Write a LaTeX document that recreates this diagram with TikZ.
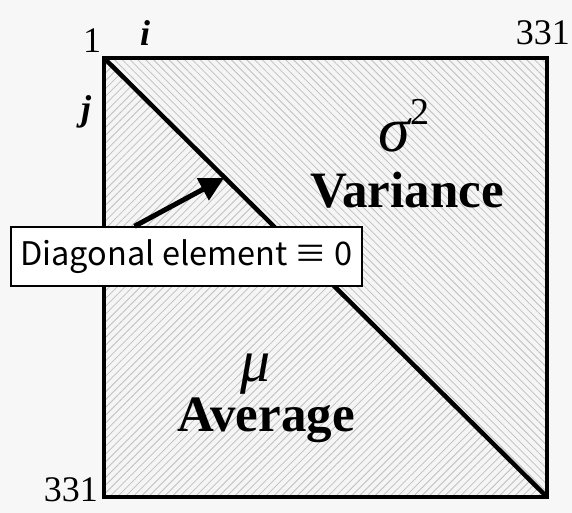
\documentclass[tikz,border=0pt]{standalone}
\usepackage{fontspec}
\setmainfont{Liberation Serif}
\newfontfamily\boxfont{Noto Sans CJK JP}
\usetikzlibrary{patterns.meta,arrows.meta}
\begin{document}
\begin{tikzpicture}[x=1pt,y=-1pt,
  frame/.style={line width=4.5pt},
  hatchA/.style={pattern={Lines[angle=45,distance=5.5pt,line width=0.8pt]},pattern color=gray!50},
  hatchB/.style={pattern={Lines[angle=-45,distance=5.5pt,line width=0.8pt]},pattern color=gray!50},
  num/.style={font=\fontsize{36}{36}\selectfont, inner sep=0pt},
  big/.style={font=\fontsize{51}{51}\selectfont\bfseries, inner sep=0pt},
  labbox/.style={draw, line width=1.5pt, fill=white, inner xsep=8pt, inner ysep=6pt, font=\fontsize{32.5}{32.5}\boxfont}
]
\fill[white!97!black] (0,0) rectangle (572,513);
\useasboundingbox (0,0) rectangle (572,513);
\coordinate (TL) at (104,58);
\coordinate (TR) at (547,58);
\coordinate (BR) at (547,497);
\coordinate (BL) at (104,497);
\fill[gray!8] (TL) rectangle (BR);
\fill[hatchA] (TL) -- (BR) -- (BL) -- cycle;
\fill[hatchB] (TL) -- (TR) -- (BR) -- cycle;
\draw[frame] (TL) rectangle (BR);
\draw[frame] (TL) -- (BR);
\node[num] (one) at (92,41) {1};
\node[num, font=\fontsize{36}{36}\selectfont\bfseries\itshape] (i) at (145,33) {i};
\node[num, anchor=east] (n331a) at (570,33) {331};
\node[num, font=\fontsize{36}{36}\selectfont\bfseries\itshape] (j) at (86,112) {j};
\node[num, anchor=east] (n331b) at (98,490) {331};
\node[inner sep=0pt, font=\fontsize{64}{64}\selectfont\itshape] (sig) at (404,126) {σ\raisebox{0.42em}{\fontsize{38}{38}\selectfont\upshape 2}};
\node[big] (var) at (407,190) {Variance};
\node[inner sep=0pt, font=\fontsize{60}{60}\selectfont\itshape] (mu) at (256,374) {μ};
\node[big] (avg) at (266,420) {Average};
\node[labbox, minimum width=351pt, minimum height=59pt] (diag) at (186.5,256.5) {Diagonal element ≡ 0};
\coordinate (tip) at (224,178);
\draw[line width=5pt, -{Triangle[length=24pt,width=24pt]}] ([xshift=-52pt]diag.north) -- (tip);
\end{tikzpicture}
\end{document}
